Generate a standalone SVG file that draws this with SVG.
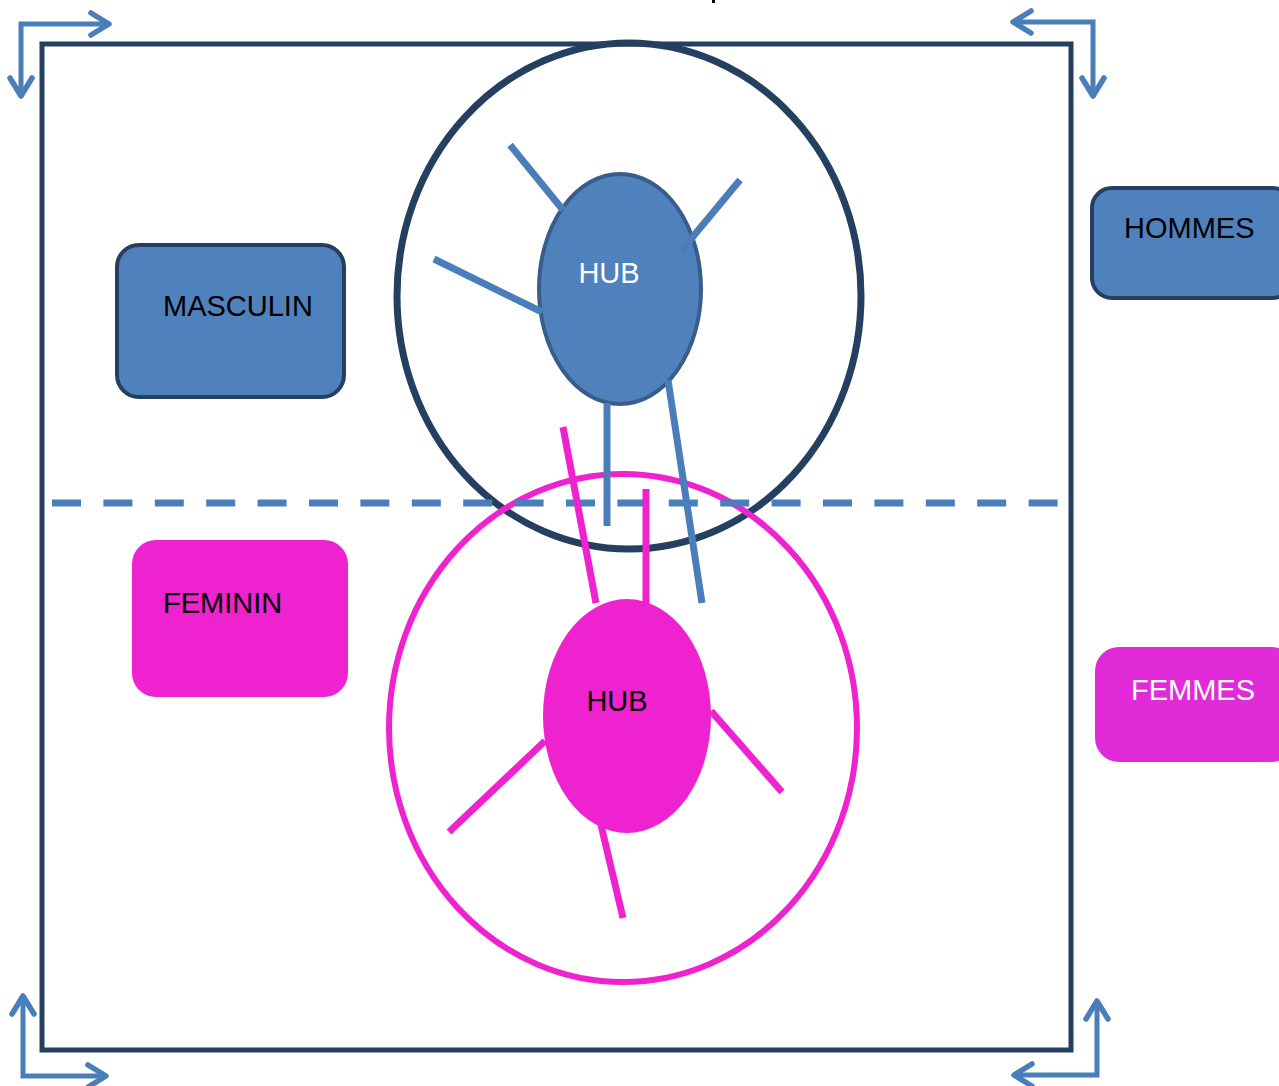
<svg xmlns="http://www.w3.org/2000/svg" width="1279" height="1086" viewBox="0 0 1279 1086">
<style>
.lbl{font-family:"Liberation Sans",Arial,sans-serif;font-size:29px;}
.corner{fill:none;stroke:#4A7EBB;stroke-width:5;stroke-linejoin:miter;marker-start:url(#ah);marker-end:url(#ah);}
.bspoke{stroke:#4A7EBB;stroke-width:7;fill:none;}
.pspoke{stroke:#EE22CF;stroke-width:7;fill:none;}
</style>
<defs>
<marker id="ah" markerUnits="userSpaceOnUse" markerWidth="40" markerHeight="40" viewBox="-20 -20 40 40" refX="0" refY="0" orient="auto-start-reverse" overflow="visible">
<path d="M-18,-11 L0,0 L-18,11" fill="none" stroke="#4A7EBB" stroke-width="5.5" stroke-linecap="round" stroke-linejoin="round"/>
</marker>
</defs>
<rect width="1279" height="1086" fill="#FFFFFF"/>
<rect x="712" y="0" width="3" height="3" fill="#000000"/>
<g id="frame">
<rect x="42" y="44" width="1029" height="1006" fill="none" stroke="#243F60" stroke-width="5"/>
</g>
<g id="corner-arrows">
<path class="corner" d="M109,24 L21,24 L21,96"/>
<path class="corner" d="M1013,22 L1093,22 L1093,96"/>
<path class="corner" d="M23,996 L23,1076 L106,1076"/>
<path class="corner" d="M1097,1001 L1097,1075 L1014,1075"/>
</g>
<g id="circle-hommes">
<ellipse cx="629" cy="296" rx="232" ry="253" fill="none" stroke="#243F60" stroke-width="7"/>
</g>
<g id="circle-femmes">
<ellipse cx="623" cy="728" rx="234" ry="254" fill="none" stroke="#EE22CF" stroke-width="6"/>
</g>
<g id="hub-hommes">
<ellipse cx="620" cy="289" rx="81" ry="115" fill="#4F81BD" stroke="#385D8A" stroke-width="4"/>
<text class="lbl" x="609" y="283" text-anchor="middle" fill="#FFFFFF">HUB</text>
</g>
<g id="hub-femmes">
<ellipse cx="627" cy="716" rx="84" ry="117" fill="#EE22CF"/>
<text class="lbl" x="617" y="711" text-anchor="middle" fill="#000000">HUB</text>
</g>
<g id="connectors">
<line class="bspoke" x1="510" y1="145" x2="563" y2="210"/>
<line class="bspoke" x1="740" y1="180" x2="681" y2="251"/>
<line class="bspoke" x1="434" y1="259" x2="542" y2="312"/>
<line class="bspoke" x1="607" y1="403" x2="607" y2="526"/>
<line class="bspoke" x1="668" y1="380" x2="702" y2="603"/>
<line x1="52" y1="503" x2="1058" y2="503" stroke="#4A7EBB" stroke-width="7" stroke-dasharray="29 22.4"/>
<line class="pspoke" x1="563" y1="427" x2="596" y2="603"/>
<line class="pspoke" x1="646" y1="489" x2="646" y2="606"/>
<line class="pspoke" x1="545" y1="741" x2="449" y2="832"/>
<line class="pspoke" x1="711" y1="711" x2="782" y2="792"/>
<line class="pspoke" x1="601" y1="825" x2="623" y2="918"/>
</g>
<g id="masculin">
<rect x="117" y="245" width="227" height="152" rx="22" fill="#4F81BD" stroke="#243F60" stroke-width="4"/>
<text class="lbl" x="163" y="316" fill="#000000">MASCULIN</text>
</g>
<g id="feminin">
<rect x="132" y="540" width="216" height="157" rx="24" fill="#EE22CF"/>
<text class="lbl" x="163" y="613" fill="#000000">FEMININ</text>
</g>
<g id="hommes">
<rect x="1092" y="188" width="200" height="110" rx="20" fill="#4F81BD" stroke="#243F60" stroke-width="4"/>
<text class="lbl" x="1124" y="238" fill="#000000">HOMMES</text>
</g>
<g id="femmes">
<rect x="1095" y="647" width="200" height="115" rx="24" fill="#E22BD8"/>
<text class="lbl" x="1131" y="700" fill="#FFFFFF">FEMMES</text>
</g>
</svg>
